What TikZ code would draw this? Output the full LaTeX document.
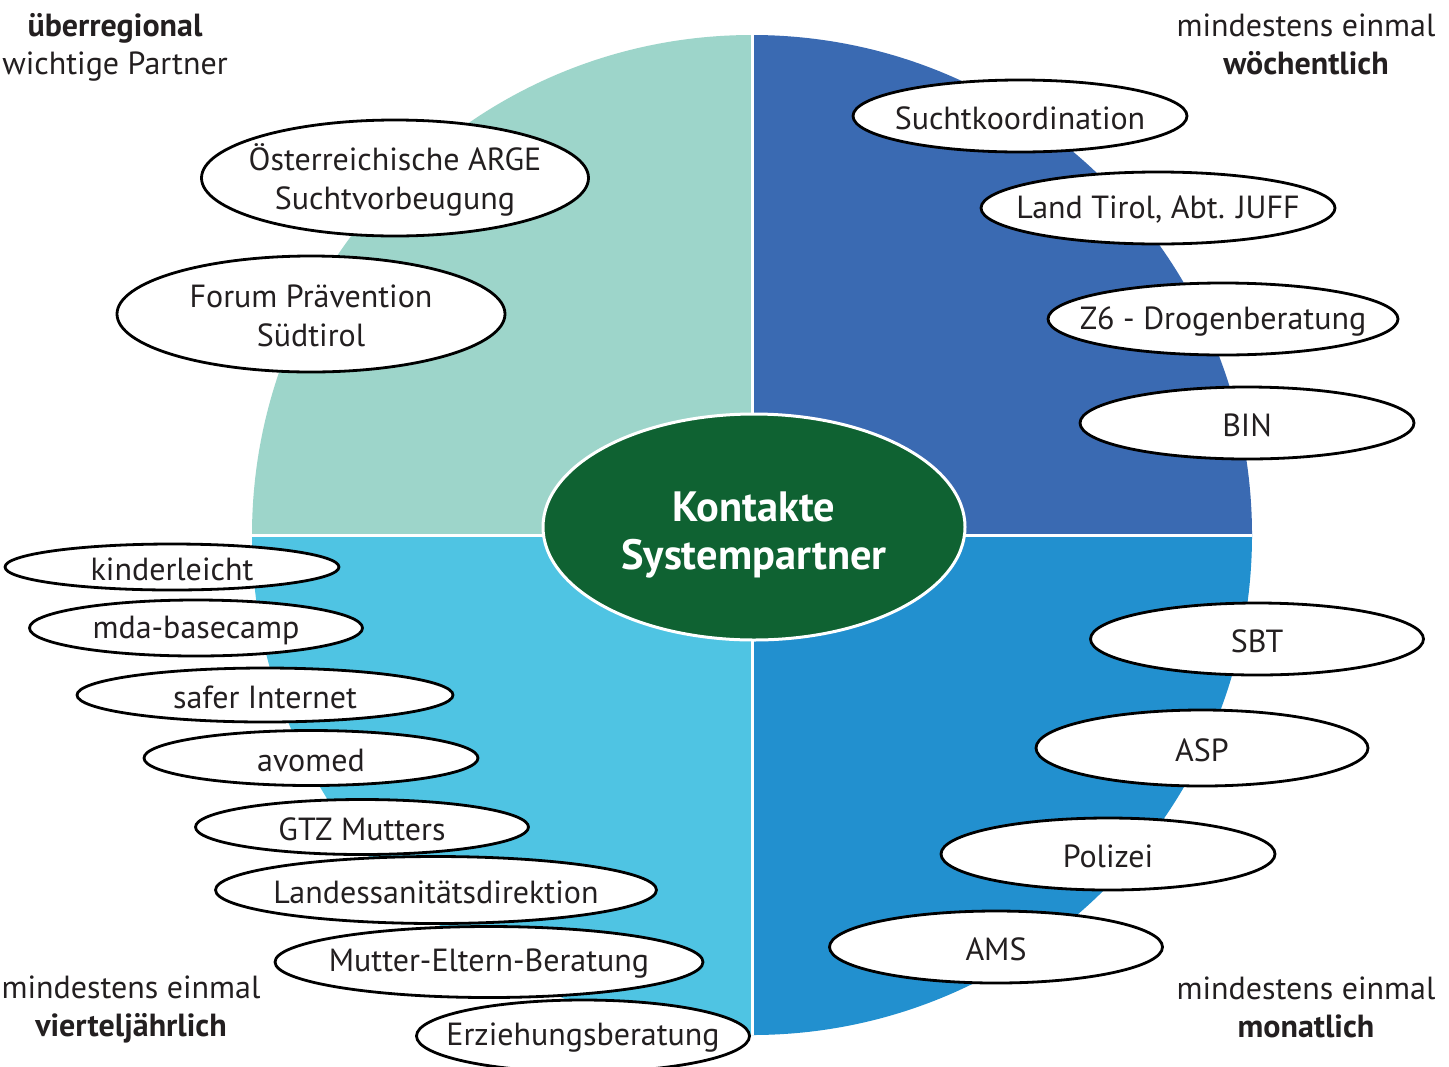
\documentclass[tikz,border=0pt]{standalone}
\usepackage{fontspec}
\setmainfont{PT Sans}
\usetikzlibrary{shapes.geometric}

\definecolor{quadTL}{HTML}{9DD5CA}
\definecolor{quadTR}{HTML}{3A6AB2}
\definecolor{quadBL}{HTML}{4FC4E3}
\definecolor{quadBR}{HTML}{2290CF}
\definecolor{kernGreen}{HTML}{0F6232}
\definecolor{textGrey}{HTML}{231F20}

\begin{document}
\begin{tikzpicture}
[x=0.5pt,y=-0.5pt,
  partnerDecorate/.style={shape=ellipse,draw=black,fill=white,line width=1.4pt,inner sep=0pt},
  partnerText/.style={text=textGrey,align=center,inner sep=0pt,yshift=-1pt,
    font=\fontsize{16}{19.5}\selectfont},
  centreDecorate/.style={shape=ellipse,draw=white,fill=kernGreen,line width=1.5pt,inner sep=0pt},
  centreText/.style={text=white,align=center,inner sep=0pt,yshift=-4pt,
    font=\bfseries\fontsize{21.2}{24}\selectfont},
  cornerDecorate/.style={text=textGrey,align=center,inner sep=0pt,
    font=\fontsize{16}{19}\selectfont}]
\clip (0,0) rectangle (1449,1066);
\fill[white] (0,0) rectangle (1449,1066);
%% quadrants
\coordinate (ctr) at (752,535);
\coordinate (north) at (752,35);
\coordinate (south) at (752,1035);
\coordinate (west) at (252,535);
\coordinate (east) at (1252,535);
\fill[quadTL] (ctr) -- (west) arc[start angle=180,end angle=270,radius=500] -- cycle;
\fill[quadTR] (ctr) -- (north) arc[start angle=270,end angle=360,radius=500] -- cycle;
\fill[quadBR] (ctr) -- (east) arc[start angle=0,end angle=90,radius=500] -- cycle;
\fill[quadBL] (ctr) -- (south) arc[start angle=90,end angle=180,radius=500] -- cycle;
\draw[white,line width=1.5pt] (north) -- (south);
\draw[white,line width=1.5pt] (west) -- (east);
%% centre
\node (kontakte) at (754,527) [centreDecorate,minimum width=211pt,minimum height=113pt,
  label={[centreText]center:Kontakte\\Systempartner}] {};
%% partners
\foreach \nodename/\x/\y/\w/\h/\txt in {
  sucht/1020/116/334/72/{Suchtkoordination},
  juff/1158/208/354/72/{Land Tirol, Abt. JUFF},
  zsechs/1223/319/350/72/{Z6 - Drogenberatung},
  bin/1247/423/334/72/{BIN},
  arge/395/178/387/116/{Österreichische ARGE\\Suchtvorbeugung},
  forum/311/314/388/116/{Forum Prävention\\Südtirol},
  kinder/172/567/334/46/{kinderleicht},
  mda/196/628/333/56/{mda-basecamp},
  safer/265/695/376/54/{safer Internet},
  avomed/311/758/334/55/{avomed},
  gtz/362/827/333/55/{GTZ Mutters},
  lsd/436/890/441/67/{Landessanitätsdirektion},
  mutter/489/962/428/71/{Mutter-Eltern-Beratung},
  erz/583/1036/333/72/{Erziehungsberatung},
  sbt/1257/639/333/72/{SBT},
  asp/1202/748/332/76/{ASP},
  polizei/1108/854/334/72/{Polizei},
  ams/996/947/333/72/{AMS}}
{
  \node (\nodename) at (\x,\y) [partnerDecorate,minimum width=\w*0.5pt,minimum height=\h*0.5pt,
    label={[partnerText]center:\txt}] {};
}
%% corner notes
\node (nw) at (115,47) [cornerDecorate] {\textbf{überregional}\\wichtige Partner};
\node (ne) at (1306,44) [cornerDecorate] {mindestens einmal\\\textbf{wöchentlich}};
\node (sw) at (131,1009) [cornerDecorate] {mindestens einmal\\\textbf{vierteljährlich}};
\node (se) at (1306,1007) [cornerDecorate] {mindestens einmal\\\textbf{monatlich}};
\end{tikzpicture}
\end{document}
